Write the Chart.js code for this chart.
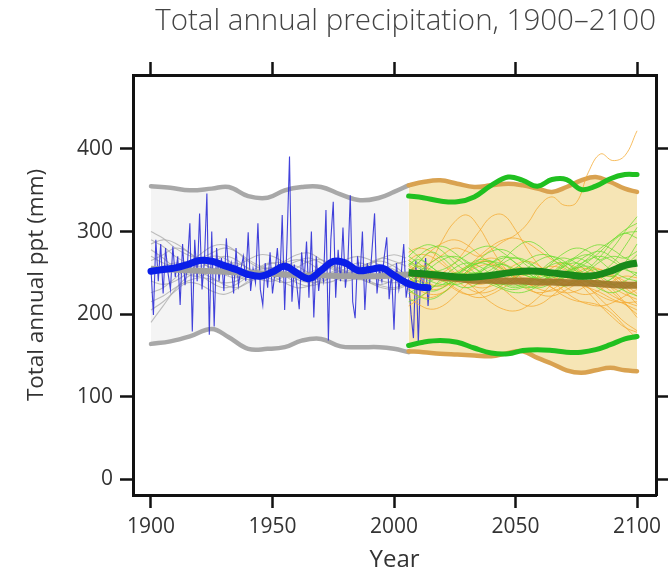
<!DOCTYPE html>
<html>
<head>
<meta charset="utf-8">
<script src="https://cdn.jsdelivr.net/npm/chart.js@4"></script>
<style>
  body { margin: 0; background: #fff; }
</style>
</head>
<body>
<canvas id="graph1" width="668" height="574"></canvas>
<script>
// ---------- data ----------
const xTicks = [1900, 1950, 2000, 2050, 2100];
const yTicks = [0, 100, 200, 300, 400];

// observed annual totals 1900-2015
const obsStart = 1900;
const obsValues = [255, 199, 290, 240, 285, 225, 280, 250, 230, 282,
  245, 270, 211, 285, 235, 260, 310, 179, 290, 240,
  322, 230, 265, 346, 175, 300, 185, 280, 240, 268,
  228, 292, 250, 262, 225, 280, 235, 255, 270, 240,
  299, 228, 255, 238, 310, 230, 211, 262, 232, 275,
  225, 250, 280, 238, 320, 205, 290, 391, 215, 260,
  235, 206, 275, 240, 288, 220, 300, 196, 270, 228,
  255, 240, 326, 168, 290, 336, 220, 278, 240, 305,
  232, 260, 344, 215, 195, 270, 245, 300, 205, 262,
  238, 280, 322, 225, 255, 240, 270, 293, 218, 250,
  181, 262, 230, 250, 285, 220, 240, 200, 171, 265,
  165, 255, 230, 268, 210, 250];

// smoothed observed
const obsSmoothYears = [1900, 1905, 1910, 1915, 1920, 1925, 1930, 1935, 1940, 1945, 1950, 1955, 1960, 1965, 1970, 1975, 1980, 1985, 1990, 1995, 2000, 2005, 2010, 2014];
const obsSmooth = [252, 254, 256, 260, 265, 264, 259, 254, 248, 246, 251, 258, 250, 243, 253, 264, 262, 253, 254, 256, 247, 238, 233, 232];

// historical simulations
const histEnvYears = [1900, 1908, 1916, 1925, 1932, 1940, 1948, 1955, 1962, 1970, 1978, 1986, 1994, 2000, 2006];
const histUpper = [355, 353, 350, 352, 354, 343, 341, 350, 354, 354, 345, 338, 341, 348, 356];
const histLower = [164, 167, 173, 182, 172, 158, 158, 160, 168, 170, 161, 160, 160, 158, 154];
const histMedian = [255, 254, 253, 252, 251, 250, 249, 248, 247, 247, 246, 246, 246, 247, 248];

const histYears = [1900, 1905, 1910, 1915, 1920, 1925, 1930, 1935, 1940, 1945, 1950, 1955, 1960, 1965, 1970, 1975, 1980, 1985, 1990, 1995, 2000, 2005];
const histRuns = [
  [290, 282, 270, 262, 258, 262, 270, 266, 255, 248, 252, 260, 258, 250, 245, 248, 255, 262, 258, 250, 246, 250],
  [265, 272, 280, 276, 265, 255, 248, 244, 250, 258, 262, 255, 246, 240, 244, 252, 258, 254, 246, 240, 238, 242],
  [190, 210, 230, 245, 250, 244, 236, 232, 238, 246, 250, 246, 238, 234, 238, 246, 250, 248, 240, 234, 232, 236],
  [300, 292, 280, 272, 268, 274, 280, 276, 266, 258, 254, 258, 264, 268, 262, 254, 250, 254, 262, 268, 264, 258],
  [240, 236, 240, 250, 262, 270, 268, 258, 248, 242, 240, 246, 256, 264, 266, 258, 248, 242, 244, 252, 260, 264],
  [278, 268, 256, 248, 246, 252, 260, 262, 256, 248, 242, 238, 242, 250, 256, 258, 252, 244, 238, 236, 242, 250],
  [252, 258, 262, 258, 248, 238, 232, 236, 246, 256, 262, 262, 254, 244, 238, 240, 248, 256, 262, 264, 258, 248],
  [226, 232, 244, 256, 264, 262, 254, 246, 242, 246, 254, 262, 266, 262, 252, 244, 240, 244, 252, 258, 254, 246],
  [285, 290, 286, 276, 264, 256, 254, 258, 266, 272, 270, 262, 252, 248, 250, 258, 266, 270, 266, 258, 252, 250],
  [215, 222, 232, 240, 244, 242, 238, 240, 248, 254, 256, 250, 242, 238, 240, 246, 252, 254, 250, 246, 244, 246],
  [205, 215, 228, 238, 236, 228, 224, 230, 240, 248, 246, 238, 232, 234, 242, 250, 252, 246, 238, 232, 230, 234],
  [270, 262, 258, 262, 272, 282, 284, 276, 264, 256, 256, 264, 272, 274, 266, 256, 250, 252, 260, 268, 272, 268]
];

// future projections
const futEnvYears = [2006, 2012, 2019, 2026, 2033, 2040, 2047, 2053, 2059, 2065, 2071, 2077, 2083, 2089, 2095, 2100];
const orangeUpper = [356, 360, 362, 358, 354, 356, 358, 356, 352, 348, 354, 362, 366, 360, 352, 348];
const orangeLower = [155, 154, 152, 151, 150, 149, 153, 155, 147, 140, 132, 129, 132, 135, 132, 131];
const greenUpper = [343, 341, 337, 336, 342, 356, 366, 362, 355, 363, 363, 351, 355, 364, 369, 369];
const greenLower = [162, 166, 168, 166, 159, 153, 152, 156, 157, 156, 154, 154, 157, 163, 170, 173];
const greenMedian = [250, 249, 247, 245, 245, 247, 250, 252, 252, 250, 248, 246, 247, 252, 259, 262];
const orangeMedian = [250, 248, 245, 243, 241, 241, 240, 240, 239, 239, 238, 238, 237, 236, 235, 235];

const futYears = [2006, 2010, 2015, 2020, 2025, 2030, 2035, 2040, 2045, 2050, 2055, 2060, 2065, 2070, 2075, 2080, 2085, 2090, 2095, 2100];
const greenRuns = [
  [250, 262, 275, 268, 255, 245, 250, 262, 270, 262, 250, 242, 246, 258, 268, 272, 266, 280, 300, 318],
  [245, 236, 228, 232, 244, 256, 262, 258, 246, 236, 232, 238, 250, 262, 268, 262, 250, 246, 262, 285],
  [270, 280, 284, 276, 262, 252, 248, 254, 266, 280, 288, 282, 268, 256, 250, 256, 270, 288, 298, 300],
  [230, 222, 218, 225, 238, 248, 250, 244, 236, 232, 238, 250, 260, 262, 254, 244, 238, 244, 256, 262],
  [260, 266, 258, 246, 236, 232, 238, 250, 262, 268, 264, 252, 240, 234, 240, 252, 264, 270, 268, 276],
  [255, 248, 240, 236, 240, 252, 266, 276, 278, 270, 258, 248, 244, 250, 262, 272, 276, 268, 256, 246],
  [240, 250, 262, 270, 268, 258, 246, 238, 236, 244, 256, 266, 270, 264, 252, 240, 230, 226, 232, 240],
  [265, 258, 252, 254, 262, 272, 280, 282, 274, 262, 250, 242, 240, 246, 256, 268, 280, 290, 302, 310],
  [225, 232, 240, 246, 250, 248, 242, 236, 230, 226, 228, 236, 248, 258, 262, 256, 246, 236, 228, 222],
  [280, 270, 258, 248, 242, 244, 252, 262, 268, 268, 262, 254, 248, 250, 258, 266, 270, 264, 254, 250],
  [235, 244, 256, 266, 270, 264, 252, 240, 232, 230, 236, 248, 262, 274, 280, 276, 264, 252, 244, 240],
  [270, 262, 250, 240, 236, 240, 250, 258, 260, 254, 246, 240, 238, 244, 254, 264, 276, 290, 298, 292],
  [215, 220, 230, 244, 256, 262, 258, 248, 238, 234, 240, 252, 264, 268, 262, 250, 240, 236, 240, 250],
  [258, 270, 280, 282, 274, 262, 252, 246, 248, 256, 266, 272, 270, 260, 248, 238, 236, 244, 258, 272],
  [248, 240, 234, 236, 246, 258, 266, 264, 254, 242, 234, 232, 238, 248, 256, 258, 252, 262, 282, 305],
  [262, 256, 248, 244, 248, 256, 262, 264, 260, 252, 246, 244, 250, 260, 270, 280, 284, 278, 268, 262]
];
const orangeRuns = [
  [265, 258, 262, 272, 280, 276, 270, 278, 288, 296, 310, 332, 342, 332, 335, 372, 394, 386, 392, 422],
  [230, 240, 262, 290, 312, 320, 305, 280, 258, 245, 240, 246, 256, 262, 256, 244, 232, 222, 215, 210],
  [260, 252, 246, 250, 262, 280, 300, 318, 320, 302, 278, 258, 246, 240, 236, 232, 226, 218, 212, 205],
  [220, 212, 206, 210, 222, 236, 244, 240, 230, 218, 210, 212, 222, 234, 240, 232, 218, 204, 190, 180],
  [250, 258, 254, 242, 230, 224, 226, 236, 248, 256, 254, 244, 232, 222, 216, 214, 210, 200, 185, 170],
  [240, 230, 224, 226, 236, 250, 262, 268, 262, 250, 238, 230, 228, 234, 244, 252, 254, 246, 232, 222],
  [275, 280, 276, 264, 250, 240, 236, 240, 250, 260, 264, 258, 246, 234, 226, 224, 230, 240, 246, 244],
  [210, 218, 230, 240, 244, 238, 226, 214, 206, 204, 210, 222, 236, 244, 240, 226, 210, 196, 184, 178],
  [255, 244, 236, 234, 240, 250, 258, 260, 254, 244, 236, 234, 240, 250, 256, 254, 244, 230, 214, 196],
  [235, 245, 252, 250, 242, 232, 226, 228, 236, 246, 252, 250, 242, 236, 238, 246, 252, 248, 236, 225],
  [245, 236, 230, 232, 242, 256, 270, 282, 290, 292, 286, 276, 266, 258, 252, 246, 240, 232, 224, 218],
  [265, 272, 270, 260, 248, 238, 232, 234, 242, 250, 254, 250, 240, 228, 218, 212, 210, 214, 222, 230],
  [228, 222, 220, 226, 238, 252, 262, 264, 256, 244, 232, 224, 222, 228, 236, 240, 236, 226, 212, 200],
  [250, 262, 276, 286, 290, 284, 272, 260, 250, 246, 248, 254, 258, 254, 244, 232, 222, 216, 214, 215],
  [238, 246, 248, 242, 232, 224, 220, 224, 232, 240, 244, 240, 232, 226, 228, 236, 244, 246, 240, 232],
  [258, 250, 244, 244, 250, 258, 264, 262, 252, 240, 230, 226, 230, 240, 250, 256, 254, 244, 228, 212]
];

// ---------- build datasets (listed bottom to top) ----------
function pts(years, vals) {
  return vals.map((v, i) => ({ x: years[i], y: v }));
}
function line(years, vals, color, width, extra) {
  return Object.assign({
    data: pts(years, vals),
    borderColor: color,
    borderWidth: width,
    pointRadius: 0,
    fill: false,
    tension: 0.4
  }, extra || {});
}

let sets = [];
// bands first (fills are drawn before every line anyway)
sets.push(line(histEnvYears, histUpper, '#a8a8a8', 4.5, { fill: 1, backgroundColor: '#f4f4f4', borderCapStyle: 'round' }));
sets.push(line(histEnvYears, histLower, '#a8a8a8', 4.5, { borderCapStyle: 'round' }));
sets.push(line(futEnvYears, orangeUpper, '#d9a250', 4.5, { fill: 3, backgroundColor: '#f6e5b5', borderCapStyle: 'round' }));
sets.push(line(futEnvYears, orangeLower, '#d9a250', 4.5, { borderCapStyle: 'round' }));

histRuns.forEach(r => sets.push(line(histYears, r, 'rgba(170,170,170,0.75)', 1.1)));

let obsYears = obsValues.map((v, i) => obsStart + i);
sets.push(line(obsYears, obsValues, 'rgba(45,45,215,0.9)', 1.1, { tension: 0 }));

sets.push(line(histEnvYears, histMedian, '#a0a0a0', 6));

orangeRuns.forEach(r => sets.push(line(futYears, r, 'rgba(244,168,45,0.75)', 1)));
greenRuns.forEach(r => sets.push(line(futYears, r, 'rgba(105,222,45,0.75)', 1)));

sets.push(line(futEnvYears, greenUpper, '#20c020', 5, { borderCapStyle: 'round' }));
sets.push(line(futEnvYears, greenLower, '#20c020', 5, { borderCapStyle: 'round' }));
sets.push(line(futEnvYears, orangeMedian, 'rgba(160,118,40,0.9)', 7));
sets.push(line(futEnvYears, greenMedian, '#1a8a1a', 7));
sets.push(line(obsSmoothYears, obsSmooth, '#0a1ee8', 7, { borderCapStyle: 'round' }));

// first pushed = lowest, so give it the highest order
sets.forEach((s, i) => { s.order = sets.length - i; });

// ---------- axes ----------
const tickFont = { family: 'Open Sans', size: 21 };
function xAxis(pos) {
  return {
    type: 'linear',
    position: pos,
    min: 1892.6,
    max: 2107.8,
    afterBuildTicks: s => { s.ticks = xTicks.map(v => ({ value: v })); },
    grid: { drawOnChartArea: false, drawTicks: true, tickLength: 13, tickWidth: 2.5, tickColor: '#111' },
    border: { display: true, color: '#111', width: 3 },
    ticks: { display: pos === 'bottom', font: tickFont, color: '#333', padding: 6, maxRotation: 0, callback: v => String(v) }
  };
}
function yAxis(pos) {
  return {
    type: 'linear',
    position: pos,
    min: -19,
    max: 489.6,
    afterBuildTicks: s => { s.ticks = yTicks.map(v => ({ value: v })); },
    grid: { drawOnChartArea: false, drawTicks: true, tickLength: pos === 'left' ? 13 : 12, tickWidth: 2.5, tickColor: '#111' },
    border: { display: true, color: '#111', width: 3 },
    ticks: { display: pos === 'left', font: tickFont, color: '#333', padding: 7, callback: v => String(v) }
  };
}

let xs = xAxis('bottom');
xs.title = { display: true, text: 'Year', font: { family: 'Open Sans', size: 24, lineHeight: 1 }, color: '#333', padding: { top: 0, bottom: 2 } };
xs.afterFit = s => { s.height = 79; };
let ys = yAxis('left');
ys.title = { display: true, text: 'Total annual ppt (mm)', font: { family: 'Open Sans', size: 22.5, lineHeight: 1.2 }, color: '#333', padding: { top: 23, bottom: 0 } };
ys.afterFit = s => { s.width = 133; };

const ctx = document.getElementById('graph1').getContext('2d');
const myChart = new Chart(ctx, {
  type: 'line',
  data: { datasets: sets },
  options: {
    responsive: false,
    animation: false,
    layout: { padding: 0 },
    scales: {
      x: xs,
      x2: xAxis('top'),
      y: ys,
      y2: yAxis('right')
    },
    plugins: {
      legend: { display: false },
      tooltip: { enabled: false },
      filler: { drawTime: 'beforeDatasetsDraw' },
      title: {
        display: true,
        text: 'Total annual precipitation, 1900\u20132100',
        fullSize: false,
        align: 'end',
        color: '#444',
        font: { family: 'Open Sans', size: 29.5, weight: '300', lineHeight: 1.2 },
        padding: { top: 4, bottom: 22.6 }
      }
    }
  }
});
</script>
</body>
</html>
